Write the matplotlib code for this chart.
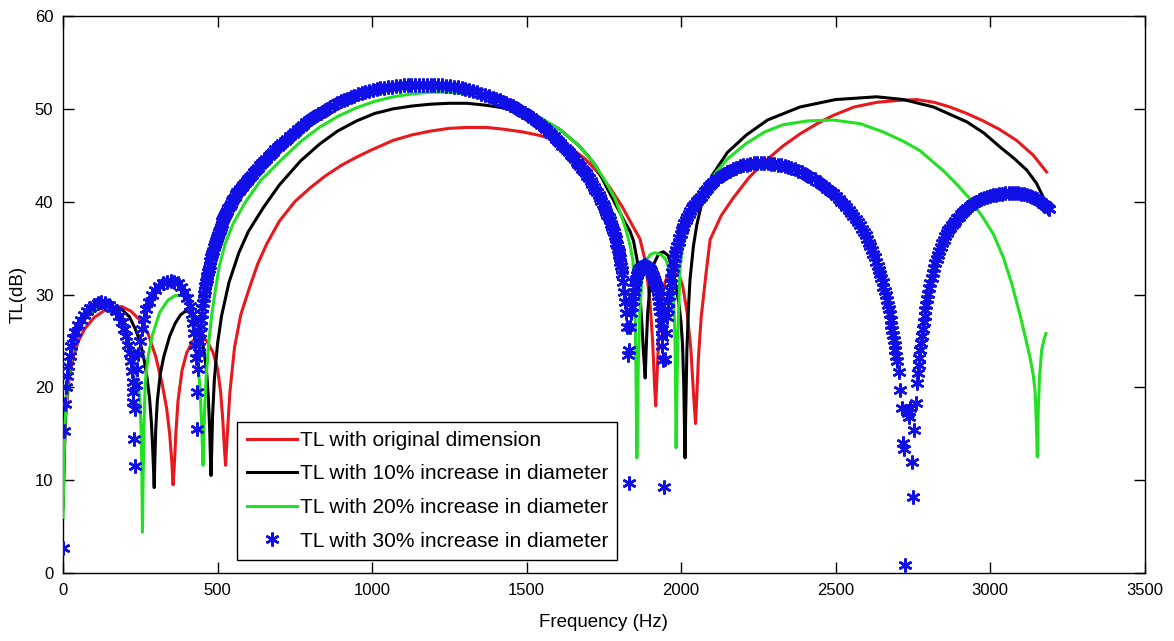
import matplotlib
matplotlib.use("Agg")
import matplotlib.pyplot as plt

plt.rcParams['font.family'] = ['Liberation Sans', 'DejaVu Sans']

# ---------------- data ----------------
red_freq = [0, 5, 10, 20, 35, 50, 70, 100, 130, 160, 190, 220, 250, 275, 300, 320, 335, 345, 352, 356,
            360, 365, 372, 385, 400, 420, 444, 465, 485, 500, 510, 517, 522, 526, 530, 540, 555, 575,
            600, 630, 660, 700, 750, 800, 850, 900, 950, 1000, 1068, 1130, 1188, 1250, 1307, 1370, 1427,
            1490, 1547, 1600, 1642, 1690, 1727, 1770, 1809, 1840, 1867, 1885, 1900, 1908, 1914, 1918,
            1922, 1930, 1945, 1965, 1985, 2005, 2020, 2032, 2040, 2044, 2047, 2051, 2056, 2065, 2080,
            2094, 2130, 2169, 2220, 2277, 2330, 2385, 2440, 2493, 2560, 2633, 2700, 2763, 2820, 2870,
            2925, 2978, 3030, 3086, 3140, 3183]
red_tl = [7.5, 14.0, 17.5, 21.0, 23.5, 25.0, 26.3, 27.5, 28.2, 28.6, 28.7, 28.2, 27.2, 25.8, 23.3, 20.5,
          17.8, 15.0, 12.0, 9.5, 11.5, 15.0, 18.5, 21.8, 23.7, 25.0, 25.5, 25.0, 23.8, 22.0, 19.5, 16.5,
          13.5, 11.6, 14.0, 19.5, 24.3, 27.8, 30.4, 33.3, 35.5, 37.9, 40.0, 41.5, 42.8, 43.9, 44.8, 45.6,
          46.6, 47.2, 47.6, 47.9, 48.0, 48.0, 47.8, 47.5, 47.1, 46.5, 45.8, 44.6, 43.3, 41.5, 39.5, 37.6,
          36.0, 33.5, 29.0, 25.0, 20.5, 18.0, 21.0, 27.0, 31.0, 32.8, 32.8, 31.0, 28.0, 24.0, 19.5, 17.5,
          16.1, 19.0, 23.0, 27.5, 32.0, 35.9, 38.5, 40.4, 42.6, 44.5, 46.0, 47.3, 48.4, 49.3, 50.2, 50.7,
          50.9, 51.0, 50.7, 50.2, 49.5, 48.7, 47.8, 46.6, 45.0, 43.2]

black_freq = [0, 4, 8, 15, 25, 38, 55, 75, 100, 130, 160, 190, 215, 235, 250, 262, 272, 280, 286, 290,
              293, 295, 297, 300, 305, 315, 326, 345, 363, 380, 400, 415, 425, 440, 450, 458, 465, 470,
              474, 477, 479, 481, 484, 490, 500, 513, 537, 569, 600, 649, 700, 769, 830, 888, 950, 1008,
              1068, 1128, 1188, 1248, 1307, 1367, 1427, 1487, 1547, 1607, 1667, 1700, 1727, 1760, 1790,
              1815, 1835, 1846, 1858, 1866, 1873, 1878, 1882, 1884, 1887, 1892, 1900, 1912, 1928, 1943,
              1958, 1970, 1983, 1993, 2000, 2005, 2009, 2011, 2013, 2015, 2019, 2024, 2029, 2040, 2051,
              2070, 2100, 2150, 2212, 2280, 2385, 2500, 2633, 2720, 2817, 2925, 2980, 3032, 3080, 3119,
              3150, 3172, 3185]
black_tl = [7.0, 13.0, 17.0, 20.5, 23.0, 25.0, 26.5, 27.6, 28.3, 28.6, 28.7, 28.4, 27.6, 26.2, 24.8,
            23.0, 21.0, 18.8, 16.2, 13.5, 11.0, 9.2, 12.0, 15.5, 18.5, 21.5, 23.3, 25.5, 26.9, 27.8, 28.3,
            28.2, 27.7, 26.5, 25.0, 23.5, 21.5, 19.0, 16.0, 12.5, 10.5, 13.0, 17.0, 21.0, 24.7, 27.7, 31.3,
            34.5, 36.8, 39.4, 41.8, 44.4, 46.2, 47.6, 48.7, 49.5, 50.0, 50.3, 50.5, 50.6, 50.6, 50.4, 50.1,
            49.6, 48.9, 47.8, 46.1, 44.9, 43.7, 41.5, 39.6, 38.0, 36.8, 35.8, 33.7, 30.5, 27.0, 24.0, 22.0,
            21.0, 24.0, 28.0, 31.2, 33.3, 34.4, 34.6, 34.2, 33.0, 31.0, 29.0, 27.0, 24.5, 20.0, 16.0, 12.4,
            17.0, 24.0, 28.5, 31.6, 35.2, 37.5, 40.3, 42.8, 45.3, 47.2, 48.8, 50.2, 51.0, 51.3, 51.0, 50.2,
            48.6, 47.4, 45.9, 44.6, 43.4, 42.0, 40.5, 39.6]

green_freq = [0, 3, 7, 13, 22, 35, 50, 70, 95, 120, 140, 160, 180, 201, 218, 233, 243, 249, 253, 255,
              257, 259, 262, 266, 275, 289, 313, 340, 363, 385, 400, 412, 420, 430, 438, 444, 448, 451,
              453, 455, 458, 463, 472, 481, 493, 506, 525, 550, 589, 640, 709, 770, 829, 890, 948, 1008,
              1068, 1128, 1188, 1250, 1307, 1367, 1427, 1487, 1547, 1607, 1667, 1710, 1750, 1787, 1819,
              1835, 1844, 1849, 1852, 1854, 1856, 1857, 1859, 1862, 1866, 1873, 1885, 1900, 1915, 1935,
              1950, 1962, 1970, 1976, 1980, 1982, 1984, 1986, 1990, 1997, 2007, 2018, 2050, 2094, 2150,
              2212, 2270, 2331, 2410, 2493, 2580, 2655, 2720, 2773, 2850, 2900, 2935, 2975, 3011, 3043,
              3070, 3097, 3115, 3129, 3140, 3146, 3150, 3153, 3156, 3160, 3167, 3175, 3181]
green_tl = [6.0, 12.0, 16.5, 19.5, 22.3, 24.5, 26.0, 27.3, 28.2, 28.7, 28.7, 28.3, 27.5, 26.0, 24.5,
            22.5, 20.5, 18.5, 15.0, 11.0, 4.4, 10.0, 16.0, 20.5, 23.3, 25.6, 28.1, 29.4, 29.9, 29.9, 29.5,
            28.3, 26.8, 24.2, 22.0, 19.5, 16.5, 13.5, 11.6, 14.0, 17.5, 21.0, 25.0, 27.7, 30.5, 33.1, 35.5,
            37.6, 39.9, 42.3, 44.6, 46.5, 48.0, 49.2, 50.1, 50.8, 51.3, 51.6, 51.8, 51.8, 51.6, 51.2, 50.7,
            50.0, 49.0, 47.8, 46.1, 44.5, 42.5, 40.3, 37.3, 35.3, 33.7, 31.0, 27.0, 22.0, 16.0, 12.4, 17.0,
            23.0, 27.5, 31.6, 33.5, 34.3, 34.5, 34.3, 33.8, 32.8, 31.6, 29.5, 26.0, 21.0, 13.5, 18.0, 26.0,
            33.0, 35.5, 37.2, 40.0, 42.4, 44.6, 46.3, 47.5, 48.3, 48.7, 48.8, 48.4, 47.5, 46.5, 45.5, 43.3,
            41.6, 40.3, 38.4, 36.5, 34.0, 31.2, 27.8, 25.3, 23.3, 21.3, 19.5, 16.0, 12.5, 17.5, 21.0, 24.0,
            25.2, 25.8]

# blue asterisks, read hump by hump
blue_freq_1 = [0, 3, 6, 9, 12, 16, 21, 27, 33, 40, 48, 57, 67, 77, 88, 100, 112, 124, 136, 148, 160,
               170, 180, 190, 198, 205, 211, 216, 220, 223, 225, 227, 228, 230, 232]
blue_tl_1 = [2.7, 15.3, 18.2, 20.0, 21.2, 22.3, 23.4, 24.4, 25.3, 26.0, 26.7, 27.3, 27.8, 28.2, 28.6,
             28.9, 29.1, 29.2, 29.1, 28.9, 28.6, 28.2, 27.7, 27.0, 26.3, 25.5, 24.6, 23.7, 22.8, 21.8,
             20.6, 19.5, 18.4, 14.4, 11.5]

blue_freq_2 = [234, 236, 239, 243, 248, 254, 261, 269, 278, 288, 299, 311, 323, 336, 348, 360, 372, 383,
               393, 402, 410, 416, 421, 425, 428, 430, 432, 434]
blue_tl_2 = [17.7, 20.2, 22.0, 23.6, 25.0, 26.3, 27.4, 28.4, 29.2, 29.9, 30.5, 30.9, 31.2, 31.4, 31.5,
             31.4, 31.2, 30.8, 30.3, 29.6, 28.8, 27.9, 26.9, 25.8, 24.6, 23.2, 19.5, 15.5]

blue_freq_3 = [437, 439, 441, 443, 445, 447, 449, 451, 453, 455, 457, 459, 461, 463, 465, 467, 469, 471,
               474, 477, 480, 483, 486, 489, 492, 495, 498, 501, 504, 507, 510, 513, 516, 519, 522, 525,
               528, 531, 535, 539, 543, 547, 551, 555, 560, 564, 569, 574, 579, 584, 589, 594, 600, 606,
               612, 618, 624, 630, 637, 644, 651, 658, 665, 672, 680, 687, 695, 702, 710, 718, 726, 734,
               743, 751, 760, 769, 778, 787, 796, 805, 815, 825, 835, 845, 855, 865, 876, 887, 898, 909,
               920, 931, 943, 954, 966, 978, 990, 1002, 1015, 1027, 1040, 1052, 1065, 1077, 1090, 1102,
               1115, 1127, 1140, 1152, 1165, 1177, 1190, 1202, 1215, 1227, 1240, 1252, 1265, 1277, 1290,
               1302, 1315, 1327, 1340, 1352, 1365, 1377, 1390, 1401, 1413, 1424, 1435, 1445, 1456, 1466,
               1476, 1486, 1495, 1504, 1513, 1522, 1531, 1540, 1548, 1556, 1564, 1572, 1580, 1588, 1595,
               1602, 1609, 1616, 1623, 1630, 1637, 1644, 1650, 1656, 1662, 1668, 1674, 1680, 1686, 1692,
               1697, 1703, 1708, 1713, 1718, 1723, 1728, 1733, 1737, 1742, 1746, 1750, 1754, 1758, 1762,
               1766, 1769, 1773, 1776, 1779, 1782, 1785, 1788, 1791, 1793, 1796, 1798, 1800, 1802, 1804,
               1806, 1808, 1810, 1813, 1816, 1819, 1822, 1825, 1828, 1830]
blue_tl_3 = [22.0, 23.8, 25.0, 25.9, 26.6, 27.3, 27.9, 28.5, 29.1, 29.6, 30.1, 30.5, 30.9, 31.3, 31.7,
             32.0, 32.4, 32.7, 33.2, 33.6, 34.0, 34.4, 34.7, 35.1, 35.4, 35.8, 36.1, 36.4, 36.7, 37.0,
             37.3, 37.6, 37.9, 38.1, 38.4, 38.6, 38.8, 39.0, 39.3, 39.55, 39.8, 40.05, 40.3, 40.55, 40.8,
             41.0, 41.2, 41.4, 41.6, 41.8, 42.0, 42.2, 42.4, 42.65, 42.9, 43.15, 43.4, 43.65, 43.9, 44.15,
             44.4, 44.65, 44.9, 45.15, 45.4, 45.65, 45.9, 46.1, 46.3, 46.55, 46.8, 47.05, 47.3, 47.55,
             47.8, 48.05, 48.3, 48.55, 48.8, 49.0, 49.2, 49.4, 49.6, 49.8, 50.0, 50.2, 50.4, 50.6, 50.8,
             50.95, 51.1, 51.25, 51.4, 51.55, 51.7, 51.8, 51.9, 52.0, 52.1, 52.2, 52.3, 52.35, 52.4,
             52.45, 52.5, 52.52, 52.55, 52.58, 52.6, 52.6, 52.6, 52.6, 52.6, 52.58, 52.55, 52.52, 52.5,
             52.45, 52.4, 52.33, 52.25, 52.15, 52.05, 51.93, 51.8, 51.65, 51.5, 51.35, 51.2, 51.05, 50.9,
             50.75, 50.6, 50.45, 50.3, 50.1, 49.9, 49.7, 49.5, 49.3, 49.1, 48.9, 48.7, 48.5, 48.3, 48.05,
             47.8, 47.55, 47.3, 47.05, 46.8, 46.55, 46.3, 46.05, 45.8, 45.55, 45.3, 45.05, 44.8, 44.55,
             44.3, 44.05, 43.8, 43.55, 43.3, 43.05, 42.8, 42.5, 42.2, 41.9, 41.6, 41.3, 41.0, 40.7, 40.4,
             40.1, 39.8, 39.5, 39.2, 38.9, 38.6, 38.3, 38.0, 37.6, 37.3, 37.0, 36.7, 36.35, 36.0, 35.6,
             35.3, 34.9, 34.6, 34.25, 33.9, 33.5, 33.1, 32.65, 32.2, 31.3, 30.3, 29.2, 28.0, 26.5, 23.5,
             9.7]

blue_freq_4 = [1833, 1836, 1839, 1841, 1843, 1845, 1847, 1850, 1852, 1855, 1858, 1861, 1865, 1868, 1872,
               1876, 1880, 1884, 1888, 1892, 1896, 1900, 1903, 1907, 1910, 1913, 1916, 1919, 1921, 1924,
               1926, 1928, 1930, 1932, 1934, 1936, 1937, 1939, 1940, 1942, 1946]
blue_tl_4 = [24.0, 26.5, 28.0, 28.7, 29.3, 29.8, 30.3, 30.8, 31.3, 31.7, 32.1, 32.4, 32.7, 32.85, 33.0,
             33.1, 33.2, 33.15, 33.1, 33.0, 32.9, 32.7, 32.5, 32.25, 32.0, 31.7, 31.4, 31.05, 30.7, 30.25,
             29.8, 29.3, 28.8, 28.2, 27.6, 26.9, 26.3, 25.4, 24.5, 22.9, 9.3]

blue_freq_5 = [1949, 1952, 1955, 1957, 1959, 1961, 1963, 1966, 1968, 1971, 1973, 1976, 1979, 1982, 1985,
               1988, 1992, 1995, 1999, 2003, 2007, 2011, 2016, 2020, 2025, 2030, 2035, 2040, 2046, 2052,
               2058, 2064, 2070, 2077, 2084, 2091, 2098, 2105, 2113, 2121, 2130, 2139, 2148, 2158, 2168,
               2179, 2190, 2201, 2212, 2223, 2235, 2246, 2258, 2269, 2280, 2291, 2302, 2313, 2324, 2335,
               2346, 2357, 2368, 2379, 2390, 2401, 2412, 2422, 2433, 2443, 2453, 2463, 2473, 2482, 2492,
               2501, 2510, 2518, 2527, 2535, 2543, 2550, 2558, 2565, 2572, 2578, 2585, 2591, 2597, 2602,
               2608, 2613, 2618, 2622, 2627, 2631, 2636, 2640, 2644, 2648, 2652, 2655, 2659, 2662, 2666,
               2669, 2672, 2675, 2678, 2681, 2684, 2687, 2689, 2692, 2694, 2697, 2699, 2704, 2709, 2714,
               2718, 2722, 2726]
blue_tl_5 = [23.0, 25.8, 27.6, 28.4, 29.2, 29.85, 30.5, 31.2, 31.8, 32.4, 32.9, 33.4, 33.9, 34.35, 34.8,
             35.25, 35.7, 36.1, 36.5, 36.9, 37.3, 37.65, 38.0, 38.35, 38.7, 39.0, 39.3, 39.55, 39.8,
             40.05, 40.3, 40.55, 40.8, 41.1, 41.4, 41.65, 41.9, 42.15, 42.4, 42.6, 42.8, 43.0, 43.2,
             43.35, 43.5, 43.65, 43.8, 43.9, 44.0, 44.08, 44.15, 44.18, 44.2, 44.18, 44.15, 44.1, 44.05,
             43.98, 43.9, 43.8, 43.7, 43.6, 43.5, 43.35, 43.2, 43.0, 42.8, 42.6, 42.4, 42.15, 41.9, 41.65,
             41.4, 41.15, 40.9, 40.6, 40.3, 40.0, 39.7, 39.4, 39.1, 38.8, 38.5, 38.15, 37.8, 37.45, 37.1,
             36.75, 36.4, 36.0, 35.6, 35.2, 34.8, 34.4, 34.0, 33.55, 33.1, 32.65, 32.2, 31.75, 31.3,
             30.85, 30.4, 29.9, 29.4, 28.9, 28.4, 27.85, 27.3, 26.75, 26.2, 25.65, 25.1, 24.55, 24.0,
             23.4, 22.8, 21.6, 19.7, 17.8, 14.0, 13.4, 0.9]

blue_freq_6 = [2730, 2734, 2738, 2742, 2746, 2750, 2754, 2759, 2764, 2766, 2769, 2771, 2774, 2776, 2779,
               2782, 2785, 2788, 2791, 2794, 2797, 2800, 2804, 2807, 2811, 2815, 2819, 2823, 2827, 2831,
               2836, 2840, 2845, 2850, 2855, 2860, 2865, 2870, 2876, 2882, 2888, 2894, 2900, 2906, 2913,
               2920, 2927, 2934, 2941, 2948, 2956, 2964, 2972, 2981, 2990, 3000, 3010, 3020, 3030, 3040,
               3050, 3060, 3070, 3080, 3090, 3100, 3110, 3119, 3128, 3136, 3145, 3152, 3160, 3166, 3172,
               3177, 3182, 3186, 3190]
blue_tl_6 = [17.5, 17.2, 16.8, 17.8, 12.0, 8.2, 15.4, 18.3, 20.5, 21.5, 22.4, 23.2, 24.0, 24.75, 25.5,
             26.25, 27.0, 27.65, 28.3, 28.9, 29.5, 30.1, 30.7, 31.25, 31.8, 32.35, 32.9, 33.35, 33.8,
             34.25, 34.7, 35.1, 35.5, 35.9, 36.3, 36.65, 37.0, 37.2, 37.45, 37.7, 37.95, 38.2, 38.4,
             38.65, 38.9, 39.1, 39.3, 39.5, 39.7, 39.85, 40.0, 40.15, 40.3, 40.4, 40.5, 40.6, 40.7, 40.75,
             40.8, 40.85, 40.9, 40.9, 40.9, 40.9, 40.9, 40.85, 40.8, 40.7, 40.6, 40.5, 40.4, 40.25, 40.1,
             39.95, 39.8, 39.65, 39.5, 39.35, 39.2]

blue_freq = blue_freq_1 + blue_freq_2 + blue_freq_3 + blue_freq_4 + blue_freq_5 + blue_freq_6
blue_tl = blue_tl_1 + blue_tl_2 + blue_tl_3 + blue_tl_4 + blue_tl_5 + blue_tl_6

labels = ['TL with original dimension',
          'TL with 10% increase in diameter',
          'TL with 20% increase in diameter',
          'TL with 30% increase in diameter']
x_ticks = [0, 500, 1000, 1500, 2000, 2500, 3000, 3500]
y_ticks = [0, 10, 20, 30, 40, 50, 60]

# ---------------- figure ----------------
fig = plt.figure(figsize=(11.74, 6.41), dpi=100)
ax = fig.add_axes([0.0537, 0.1061, 0.9212, 0.8689])

ax.plot(red_freq, red_tl, color='#e8181c', lw=2.2, label=labels[0], zorder=2)
ax.plot(black_freq, black_tl, color='black', lw=2.2, label=labels[1], zorder=3)
ax.plot(green_freq, green_tl, color='#22e022', lw=2.2, label=labels[2], zorder=4)
ax.plot(blue_freq, blue_tl, linestyle='none', marker=(6, 2, 0), markersize=10,
        markeredgewidth=1.8, color='#1010e6', label=labels[3], zorder=5)

ax.set_xlim(0, 3500)
ax.set_ylim(0, 60)
ax.set_xticks(x_ticks)
ax.set_yticks(y_ticks)
ax.tick_params(direction='in', length=8, width=1, top=True, right=True, labelsize=12, pad=7)
for s in ax.spines.values():
    s.set_linewidth(1.0)

ax.set_xlabel('Frequency (Hz)', fontsize=13.5, labelpad=12)
ax.set_ylabel('TL(dB)', fontsize=13.5, labelpad=6)

leg = ax.legend(loc='lower left', bbox_to_anchor=(0.161, 0.0233), borderaxespad=0,
                fontsize=15, frameon=True, fancybox=False, framealpha=1, edgecolor='black',
                handlelength=2.4, handletextpad=0.15, labelspacing=0.7, borderpad=0.45, numpoints=1)
leg.get_frame().set_linewidth(1.0)
leg.set_zorder(4.5)

fig.savefig('out.png', dpi=100)
